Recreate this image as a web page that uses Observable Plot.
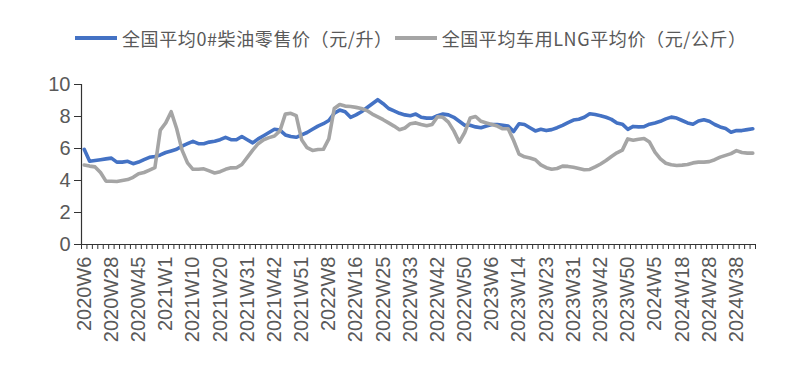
<!DOCTYPE html>
<html>
<head>
<meta charset="utf-8">
<script src="https://cdn.jsdelivr.net/npm/d3@7"></script>
<script src="https://cdn.jsdelivr.net/npm/@observablehq/plot@0.6"></script>
<style>
  body { margin: 0; background: #fff; width: 800px; height: 371px; overflow: hidden; font-family: "Liberation Sans", Arial, sans-serif; }
  #legend { box-sizing: border-box; height: 62px; padding: 26px 0 12px 75px; display: flex; align-items: center; font-family: "Noto Sans CJK SC", sans-serif; font-size: 18px; letter-spacing: 0.6px; color: #595959; white-space: nowrap; }
  #legend .sw { display: inline-block; width: 42px; height: 4px; margin-right: 5px; }
  #legend .item { display: flex; align-items: center; margin-right: 2px; line-height: 24px; }
  #chart svg { display: block; }
</style>
</head>
<body>
<div id="legend"></div>
<div id="chart"></div>
<script>
// Series names
const seriesNames = ["全国平均0#柴油零售价（元/升）", "全国平均车用LNG平均价（元/公斤）"];
const seriesColors = ["#4472C4", "#A5A5A5"];

// Visible category labels (every 5th weekly observation)
const weekLabels = ["2020W6","2020W28","2020W45","2021W1","2021W10","2021W20","2021W31","2021W42","2021W51",
  "2022W8","2022W16","2022W25","2022W33","2022W42","2022W50","2023W6","2023W14","2023W23","2023W31",
  "2023W42","2023W50","2024W5","2024W18","2024W28","2024W38"];

// Diesel retail price (yuan/L), 124 observations
const diesel = [5.95,5.2,5.25,5.3,5.35,5.4,5.15,5.15,5.2,5.05,
  5.15,5.3,5.45,5.5,5.6,5.75,5.85,5.95,6.15,6.3,
  6.45,6.3,6.3,6.4,6.45,6.55,6.7,6.55,6.55,6.75,
  6.55,6.35,6.6,6.8,7.0,7.2,7.15,6.85,6.75,6.7,
  6.85,7.0,7.2,7.4,7.55,7.75,8.2,8.4,8.3,7.95,
  8.1,8.3,8.55,8.8,9.05,8.8,8.5,8.35,8.2,8.1,
  8.05,8.15,7.95,7.9,7.9,8.05,8.15,8.1,7.95,7.7,
  7.45,7.45,7.35,7.3,7.4,7.5,7.5,7.45,7.4,7.06,
  7.55,7.5,7.3,7.1,7.2,7.12,7.18,7.3,7.45,7.62,
  7.78,7.83,7.95,8.17,8.12,8.05,7.95,7.82,7.6,7.52,
  7.2,7.38,7.35,7.36,7.52,7.6,7.7,7.85,7.96,7.9,
  7.75,7.6,7.52,7.72,7.8,7.7,7.5,7.35,7.25,7.02,
  7.12,7.12,7.18,7.23];

// Vehicle LNG average price (yuan/kg), 124 observations
const lng = [4.97,4.9,4.85,4.5,3.96,3.95,3.94,4.0,4.06,4.2,
  4.42,4.5,4.65,4.8,7.15,7.6,8.3,7.25,5.9,5.1,
  4.7,4.7,4.73,4.6,4.47,4.55,4.7,4.79,4.8,5.0,
  5.45,5.9,6.3,6.55,6.68,6.78,7.1,8.15,8.2,8.05,
  6.55,6.05,5.88,5.94,5.95,6.6,8.5,8.75,8.65,8.62,
  8.57,8.5,8.37,8.15,7.98,7.8,7.6,7.4,7.17,7.28,
  7.55,7.6,7.5,7.42,7.5,7.98,7.95,7.65,7.1,6.4,
  7.0,7.9,8.0,7.7,7.6,7.5,7.4,7.23,7.23,6.5,
  5.65,5.48,5.41,5.3,4.98,4.8,4.7,4.75,4.9,4.88,
  4.83,4.75,4.67,4.69,4.85,5.03,5.25,5.5,5.73,5.9,
  6.6,6.52,6.58,6.62,6.4,5.77,5.35,5.08,4.98,4.94,
  4.96,5.0,5.1,5.15,5.15,5.18,5.3,5.46,5.57,5.68,
  5.87,5.75,5.71,5.71];

const yTicks = [0, 2, 4, 6, 8, 10];

// Legend
const legend = document.getElementById("legend");
seriesNames.forEach((name, k) => {
  const item = document.createElement("div");
  item.className = "item";
  const sw = document.createElement("span");
  sw.className = "sw";
  sw.style.background = seriesColors[k];
  const t = document.createElement("span");
  t.textContent = name;
  item.appendChild(sw);
  item.appendChild(t);
  legend.appendChild(item);
});

const n = diesel.length;
const idx = d3.range(n);
const labelIdx = weekLabels.map((_, k) => k * 5);

const chart = Plot.plot({
  width: 800,
  height: 309,
  marginTop: 22,
  marginBottom: 127,
  marginLeft: 81,
  marginRight: 45,
  style: { fontFamily: "Liberation Sans, Arial, sans-serif", background: "#fff" },
  x: { type: "linear", domain: [-0.5, n - 0.5], axis: null },
  y: { domain: [0, 10], axis: null },
  marks: [
    Plot.axisY({ ticks: yTicks, tickSize: 7, tickPadding: 4, fontSize: 20, stroke: "#333", fill: "#595959", anchor: "left" }),
    Plot.axisX({ ticks: d3.range(-0.5, n, 1), tickSize: 5, tickFormat: () => "", stroke: "#333", anchor: "bottom" }),
    Plot.axisX({ ticks: labelIdx, tickSize: 0, tickPadding: 12, tickRotate: -90, fontSize: 20, fill: "#595959",
                 tickFormat: (v) => weekLabels[Math.round(v / 5)], anchor: "bottom" }),
    Plot.ruleX([-0.5], { stroke: "#333", strokeWidth: 1.2 }),
    Plot.ruleY([0], { stroke: "#333", strokeWidth: 1.2 }),
    Plot.lineY(idx, { x: (i) => i, y: (i) => diesel[i], stroke: seriesColors[0], strokeWidth: 3.6, strokeLinejoin: "round", strokeLinecap: "round" }),
    Plot.lineY(idx, { x: (i) => i, y: (i) => lng[i], stroke: seriesColors[1], strokeWidth: 3.6, strokeLinejoin: "round", strokeLinecap: "round" })
  ]
});
document.getElementById("chart").appendChild(chart);
</script>
</body>
</html>
